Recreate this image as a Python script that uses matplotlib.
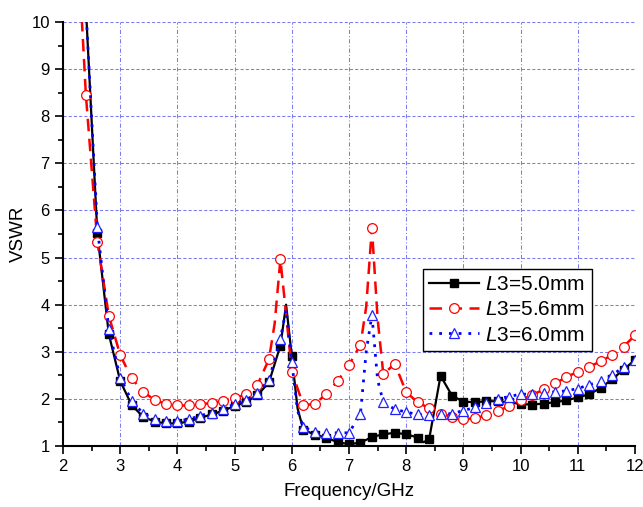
import numpy as np
import matplotlib
matplotlib.use("Agg")
import matplotlib.pyplot as plt

plt.rcParams['font.family'] = ['Liberation Sans', 'DejaVu Sans']
plt.rcParams['mathtext.fontset'] = 'custom'
plt.rcParams['mathtext.rm'] = 'Liberation Sans'
plt.rcParams['mathtext.it'] = 'Liberation Sans:italic'

# ---- data ----
freq = np.round(np.arange(2.4, 12.001, 0.2), 1)

vswr_50 = [10.3, 5.52, 3.38, 2.38, 1.87, 1.62, 1.52, 1.48, 1.48, 1.52,
           1.60, 1.67, 1.75, 1.85, 1.94, 2.08, 2.35, 3.13, 2.90, 1.35,
           1.24, 1.18, 1.08, 1.04, 1.07, 1.19, 1.25, 1.28, 1.25, 1.18,
           1.14, 2.49, 2.07, 1.94, 1.93, 1.95, 1.95, 1.93, 1.89, 1.88,
           1.90, 1.93, 1.97, 2.03, 2.10, 2.23, 2.42, 2.62, 2.83]
extra_50_f = [5.9, 6.1, 8.3]
extra_50_v = [4.0, 1.8, 1.08]

vswr_56 = [8.45, 5.34, 3.77, 2.93, 2.44, 2.15, 1.98, 1.89, 1.86, 1.86,
           1.89, 1.91, 1.96, 2.01, 2.10, 2.30, 2.84, 4.96, 2.58, 1.87,
           1.89, 2.10, 2.38, 2.72, 3.15, 5.63, 2.52, 2.75, 2.14, 1.93,
           1.80, 1.69, 1.62, 1.57, 1.59, 1.65, 1.74, 1.85, 1.98, 2.08,
           2.20, 2.33, 2.46, 2.58, 2.68, 2.80, 2.93, 3.11, 3.35]
extra_56_f = [2.3, 5.7, 5.9, 7.3, 7.5]
extra_56_v = [10.7, 3.6, 3.8, 3.95, 3.7]

vswr_60 = [10.3, 5.65, 3.48, 2.45, 1.96, 1.69, 1.57, 1.53, 1.53, 1.57,
           1.64, 1.71, 1.79, 1.89, 1.98, 2.13, 2.40, 3.27, 2.78, 1.41,
           1.30, 1.28, 1.28, 1.28, 1.68, 3.78, 1.93, 1.78, 1.72, 1.67,
           1.65, 1.67, 1.69, 1.75, 1.82, 1.92, 2.00, 2.05, 2.10, 2.10,
           2.13, 2.15, 2.17, 2.22, 2.30, 2.38, 2.51, 2.67, 2.83]
extra_60_f = [5.9, 6.1, 7.3, 7.5]
extra_60_v = [3.9, 1.75, 3.0, 2.4]

labels = [r'$\mathit{L3}$=5.0mm', r'$\mathit{L3}$=5.6mm', r'$\mathit{L3}$=6.0mm']


def merged(f, v, ef, ev):
    allf = np.concatenate([f, ef])
    allv = np.concatenate([v, ev])
    grid = np.concatenate([np.ones(len(f), bool), np.zeros(len(ef), bool)])
    order = np.argsort(allf, kind='stable')
    return allf[order], allv[order], list(np.where(grid[order])[0])


fig = plt.figure(figsize=(6.43, 5.07), dpi=100)
ax = fig.add_axes([0.098, 0.1203, 0.8896, 0.8363])

x, y, me = merged(freq, vswr_50, extra_50_f, extra_50_v)
ax.plot(x, y, color='black', lw=1.6, marker='s', ms=5.5, mfc='black',
        mec='black', markevery=me, label=labels[0], zorder=3)

x, y, me = merged(freq, vswr_56, extra_56_f, extra_56_v)
ax.plot(x, y, color='#ff0000', lw=1.8, ls=(0, (5, 3)), marker='o', ms=7,
        mfc='white', mec='#ff0000', mew=0.9, markevery=me, label=labels[1], zorder=4)

x, y, me = merged(freq, vswr_60, extra_60_f, extra_60_v)
ax.plot(x, y, color='#0000ff', lw=2.0, ls=(0, (1, 2.5)), marker='^', ms=7.5,
        mfc='white', mec='#2020ff', mew=0.9, markevery=me, label=labels[2], zorder=5)

ax.set_xlim(2, 12)
ax.set_ylim(1, 10)
ax.set_xticks(np.arange(2, 13, 1))
ax.set_yticks(np.arange(1, 11, 1))
ax.set_xticks(np.arange(2.5, 12, 1), minor=True)
ax.set_yticks(np.arange(1.5, 10, 1), minor=True)

gcol = '#7c7cf2'
for v in range(3, 12):
    ax.axvline(v, color=gcol, lw=0.75, ls=(0, (4, 2, 1, 2)), zorder=1)
for v in range(2, 11):
    ax.axhline(v, color=gcol, lw=0.75, ls=(0, (3, 2)), zorder=1)

ax.spines['top'].set_visible(False)
ax.spines['right'].set_visible(False)
ax.spines['left'].set_linewidth(1.5)
ax.spines['bottom'].set_linewidth(1.5)
ax.tick_params(which='major', direction='out', length=6, width=1.2, labelsize=12)
ax.tick_params(which='minor', direction='out', length=3.5, width=1.2)

ax.set_xlabel('Frequency/GHz', fontsize=13.5, labelpad=6)
ax.set_ylabel('VSWR', fontsize=13.5, labelpad=3)

leg = ax.legend(loc='upper left', bbox_to_anchor=(0.629, 0.4175), fontsize=15,
                frameon=True, fancybox=False, edgecolor='black', framealpha=1,
                handlelength=2.4, handletextpad=0.3, borderpad=0.3,
                labelspacing=0.3, borderaxespad=0)
leg.get_frame().set_linewidth(1.0)
leg.set_zorder(10)

fig.savefig('out.png', dpi=100, facecolor='white')
